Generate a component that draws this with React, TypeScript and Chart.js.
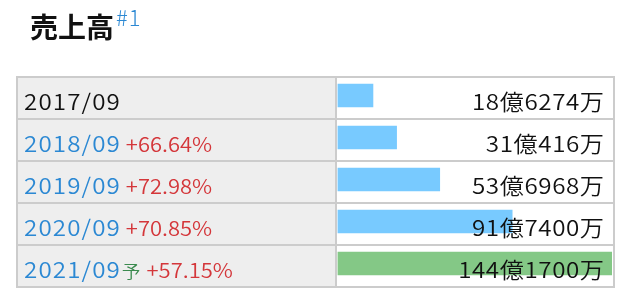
import React, { useEffect, useRef } from "react";
import { Chart, registerables } from "chart.js";

Chart.register(...registerables);

// ---- data ----
const periods = ["2017/09", "2018/09", "2019/09", "2020/09", "2021/09"];
const sales = [18.6274, 31.0416, 53.6968, 91.74, 144.17]; // 億円
const salesLabels = ["18億6274万", "31億416万", "53億6968万", "91億7400万", "144億1700万"];
const growthLabels = ["", "+66.64%", "+72.98%", "+70.85%", "+57.15%"];
const isForecast = [false, false, false, false, true];
const title = "売上高";
const titleNote = "#1";

const FONT = '"Noto Sans CJK JP", "Noto Sans", sans-serif';
const BLUE = "#2b88d3";
const RED = "#d4363a";
const GREEN_TXT = "#3a8a4e";
const BAR_BLUE = "#78caff";
const BAR_GREEN = "#84c886";
const GRID = "#cccccc";
const CELL_BG = "#eeeeee";
const SX = 1.1; // horizontal glyph stretch

// draws text stretched horizontally; returns drawn width
function drawText(ctx: any, text: string, x: number, base: number, font: string, color: string, align: "left" | "right", spacing: number) {
  ctx.save();
  ctx.font = font;
  ctx.letterSpacing = `${spacing}px`;
  ctx.fillStyle = color;
  ctx.textAlign = "left";
  ctx.textBaseline = "alphabetic";
  const w = (ctx.measureText(text).width - spacing) * SX;
  const left = align === "left" ? x : x - w;
  ctx.translate(left, base);
  ctx.scale(SX, 1);
  ctx.fillText(text, 0, 0);
  ctx.restore();
  return w;
}

const tablePlugin = {
  id: "tablePlugin",
  beforeDatasetsDraw(chart: any) {
    const { ctx } = chart;
    const y = chart.scales.y;
    ctx.save();
    // title
    ctx.fillStyle = "#111";
    ctx.font = `bold 28px ${FONT}`;
    ctx.textBaseline = "alphabetic";
    ctx.textAlign = "left";
    (ctx as any).letterSpacing = "0px";
    ctx.fillText(title, 30, 38);
    const tw = ctx.measureText(title).width;
    ctx.fillStyle = BLUE;
    ctx.font = `300 22px ${FONT}`;
    (ctx as any).letterSpacing = "1px";
    ctx.fillText(titleNote, 30 + tw + 2, 26);

    for (let i = 0; i < periods.length; i++) {
      const top = y.getPixelForValue(i) - 18.5;
      ctx.fillStyle = CELL_BG;
      ctx.fillRect(17, top, 336 - 17, 42);
      ctx.fillStyle = "#ffffff";
      ctx.fillRect(336, top, 614 - 336, 42);
    }
    ctx.restore();
  },
  afterDatasetsDraw(chart: any) {
    const { ctx } = chart;
    const y = chart.scales.y;
    ctx.save();
    // grid
    ctx.strokeStyle = GRID;
    ctx.lineWidth = 2;
    const tops: number[] = [];
    for (let i = 0; i < periods.length; i++) tops.push(y.getPixelForValue(i) - 18.5);
    const bottom = tops[tops.length - 1] + 42;
    ctx.beginPath();
    [...tops, bottom].forEach((t) => {
      ctx.moveTo(16, t);
      ctx.lineTo(615, t);
    });
    [17, 336, 614].forEach((x) => {
      ctx.moveTo(x, tops[0] - 1);
      ctx.lineTo(x, bottom + 1);
    });
    ctx.stroke();

    // texts
    for (let i = 0; i < periods.length; i++) {
      const base = tops[i] + 32.5;
      let x = 24;
      x += drawText(ctx, periods[i], x, base, `350 22px ${FONT}`, i === 0 ? "#111" : BLUE, "left", 1);
      if (isForecast[i]) {
        x += 2;
        x += drawText(ctx, "予", x, base, `350 17px ${FONT}`, GREEN_TXT, "left", 0);
      }
      if (growthLabels[i]) {
        x += 6;
        drawText(ctx, growthLabels[i], x, base, `350 20px ${FONT}`, RED, "left", 0);
      }
      drawText(ctx, salesLabels[i], 604, base, `350 22px ${FONT}`, "#111", "right", 0.5);
    }
    ctx.restore();
  },
};

export default function App() {
  const ref = useRef<HTMLCanvasElement>(null);
  useEffect(() => {
    if (!ref.current) return;
    const chart = new Chart(ref.current, {
      type: "bar",
      data: {
        labels: periods,
        datasets: [
          {
            data: sales,
            backgroundColor: isForecast.map((f) => (f ? BAR_GREEN : BAR_BLUE)),
            barThickness: 23,
            borderWidth: 0,
          },
        ],
      },
      options: {
        indexAxis: "y",
        responsive: false,
        animation: false,
        events: [],
        layout: { padding: { left: 337.5, right: 14, top: 74.5, bottom: 13.5 } },
        plugins: { legend: { display: false }, tooltip: { enabled: false } },
        scales: {
          x: { type: "linear", min: 0, max: Math.max(...sales), display: false },
          y: { display: false },
        },
      },
      plugins: [tablePlugin],
    } as any);
    return () => chart.destroy();
  }, []);
  return (
    <div style={{ position: "fixed", left: 0, top: 0, width: 626, height: 298, background: "#fff" }}>
      <canvas ref={ref} width={626} height={298} style={{ display: "block" }} />
    </div>
  );
}
